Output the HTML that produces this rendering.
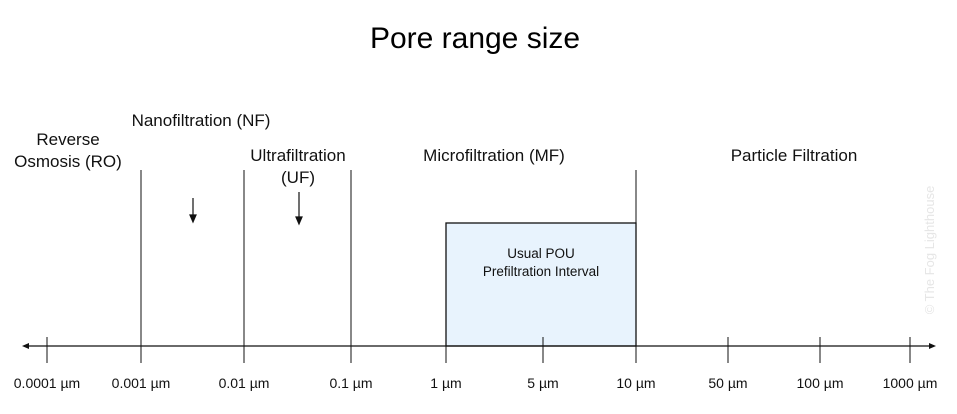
<!DOCTYPE html>
<html><head><meta charset="utf-8"><style>
body{margin:0;background:#fff;}
svg{display:block;font-family:"Liberation Sans",Arial,sans-serif;}
</style></head><body>
<svg id="c" width="957" height="414">
<text x="475" y="48" font-size="30" text-anchor="middle" fill="#000">Pore range size</text>
<g font-size="17" fill="#111" text-anchor="middle">
<text x="68" y="145">Reverse</text>
<text x="68" y="167">Osmosis (RO)</text>
<text x="201" y="126">Nanofiltration (NF)</text>
<text x="298" y="161">Ultrafiltration</text>
<text x="298" y="183">(UF)</text>
<text x="494" y="161">Microfiltration (MF)</text>
<text x="794" y="161">Particle Filtration</text>
</g>
<g stroke="#111" stroke-width="1.2">
<line x1="193" y1="198" x2="193" y2="218"/><path d="M190,215 L193,222 L196,215Z" fill="#111"/>
<line x1="299" y1="192" x2="299" y2="220"/><path d="M296,217 L299,224 L302,217Z" fill="#111"/>
</g>
<text transform="translate(934,250) rotate(-90)" font-size="13" fill="#e6e6e6" text-anchor="middle">© The Fog Lighthouse</text>
<g id="plot"></g>
</svg>
<script>
const tickLabels=["0.0001 µm","0.001 µm","0.01 µm","0.1 µm","1 µm","5 µm","10 µm","50 µm","100 µm","1000 µm"];
const boundaries=[1,2,3,6];
const boxRange=[4,6];
const ns="http://www.w3.org/2000/svg";
const g=document.getElementById('plot');
function x(i){const axisPx=[47,141,244,351,446,543,636,728,820,910];return axisPx[Math.max(0,Math.min(axisPx.length-1,i))];}
function mk(t,a){const e=document.createElementNS(ns,t);for(const k in a)e.setAttribute(k,a[k]);g.appendChild(e);return e;}
const box=mk('rect',{x:x(boxRange[0]),y:223,width:x(boxRange[1])-x(boxRange[0]),height:123,fill:'#e8f3fd',stroke:'#111','stroke-width':1.3});


const bt=mk('text',{x:(x(boxRange[0])+x(boxRange[1]))/2,y:258,'font-size':13.5,'text-anchor':'middle',fill:'#111'});
bt.textContent='Usual POU';


const bt2=mk('text',{x:(x(boxRange[0])+x(boxRange[1]))/2,y:276,'font-size':13.5,'text-anchor':'middle',fill:'#111'});
bt2.textContent='Prefiltration Interval';


const ax=mk('line',{x1:24,y1:346,x2:934,y2:346,stroke:'#111','stroke-width':1.2});


const a1=mk('path',{d:'M22,346 L29,343 L29,349Z',fill:'#111'});


const a2=mk('path',{d:'M936,346 L929,343 L929,349Z',fill:'#111'});


tickLabels.forEach((l,i)=>{
  const top=boundaries.includes(i)?170:337;
  const t=mk('line',{x1:x(i),y1:top,x2:x(i),y2:363,stroke:'#111','stroke-width':1});
  
  
  const tx=mk('text',{x:x(i),y:388,'font-size':14,'text-anchor':'middle',fill:'#111'});
  tx.textContent=l;
  
  
});
</script>
</body></html>
